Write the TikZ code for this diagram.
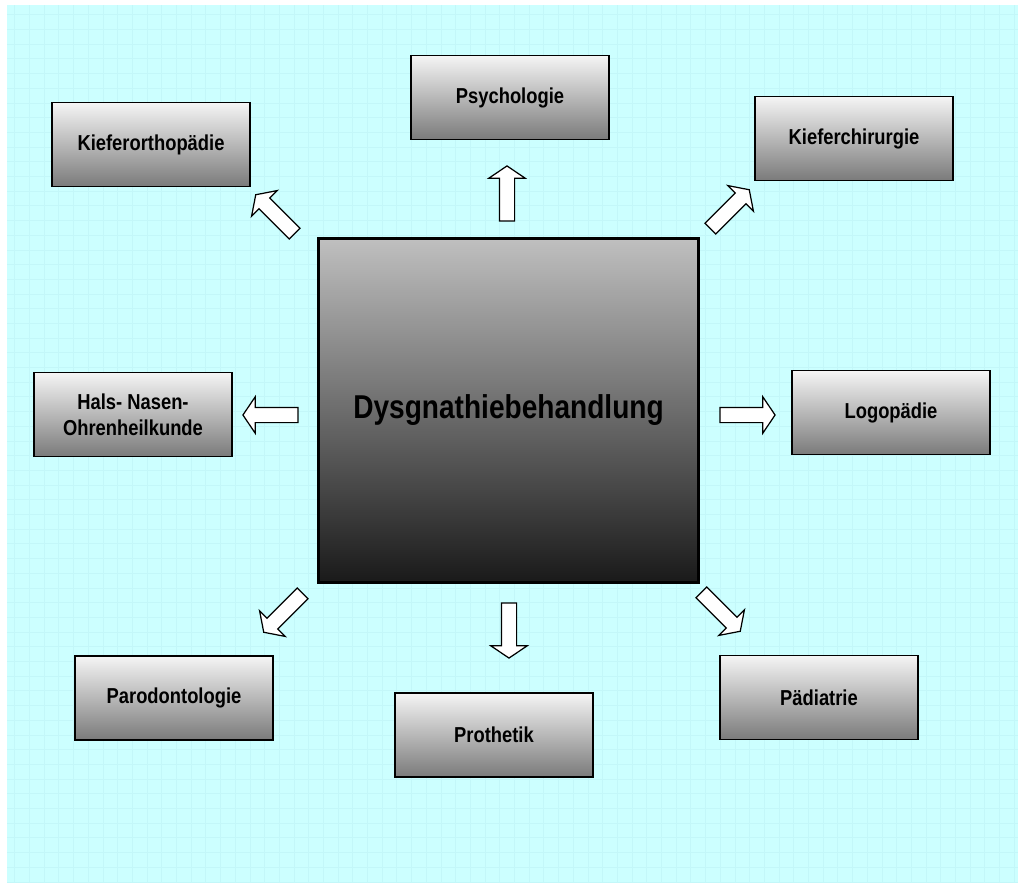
\documentclass[tikz,border=0pt]{standalone}
\usepackage{fontspec}
\setmainfont{Liberation Sans}
\newfontfamily\schmalfont[FakeStretch=0.85]{Liberation Sans}
\usepackage{tikz}
\usetikzlibrary{shapes.arrows}
\definecolor{bgcyan}{HTML}{CCFFFF}
\definecolor{gridcyan}{HTML}{C3F7F9}
\tikzset{
  fachbox/.style={draw=black, line width=0.8pt, top color=black!4, bottom color=black!52,
    minimum width=3.96cm, minimum height=1.68cm, align=center,
    font=\schmalfont\fontsize{12.3}{15}\selectfont\bfseries},
  hauptbox/.style={draw=black, line width=1.3pt, top color=black!25, bottom color=black!90,
    minimum width=7.6cm, minimum height=6.88cm,
    font=\schmalfont\fontsize{18.8}{22}\selectfont\bfseries},
  blockpfeil/.style={single arrow, draw=black, fill=white, line width=0.7pt,
    inner sep=0.14cm, single arrow head extend=0.21cm, single arrow tip angle=112,
    minimum height=1.1cm, outer sep=0pt}
}
\begin{document}
\begin{tikzpicture}[x=0.02cm,y=-0.02cm]
		%%%%% START %%%%%
		\useasboundingbox (0,0) rectangle (1018,883);
		\fill[bgcyan] (7,5) rectangle (1018,883);
		\draw[gridcyan, line width=0.4pt, xstep=0.294cm, ystep=0.294cm] (7,5) grid (1018,883);
		
		% main box
		\node[hauptbox] (haupt) at (508.5,410.5) {Dysgnathiebehandlung};
		
		% the eight fields
		\node[fachbox] (psych) at (510,97.5) {Psychologie};
		\node[fachbox] (kfo) at (151,144.5) {Kieferorthopädie};
		\node[fachbox] (kchir) at (854,138.5) {Kieferchirurgie};
		\node[fachbox] (hno) at (133,414.5) {Hals- Nasen-\\Ohrenheilkunde};
		\node[fachbox] (logo) at (891,412.5) {Logopädie};
		\node[fachbox] (paro) at (174,698) {Parodontologie};
		\node[fachbox] (proth) at (494,735) {Prothetik};
		\node[fachbox] (paed) at (819,697.5) {Pädiatrie};
		
		% block arrows
		\node[blockpfeil, rotate=90] (pfPsych) at (507,196) {};
		\node[blockpfeil, rotate=135] (pfKfo) at (277,216) {};
		\node[blockpfeil, rotate=45] (pfKchir) at (728,211) {};
		\node[blockpfeil, rotate=180] (pfHno) at (273,415) {};
		\node[blockpfeil] (pfLogo) at (745,415) {};
		\node[blockpfeil, rotate=225] (pfParo) at (285,611) {};
		\node[blockpfeil, rotate=-90] (pfProth) at (509,628) {};
		\node[blockpfeil, rotate=-45] (pfPaed) at (719,610) {};
		%%%%% END %%%%%
\end{tikzpicture}
\end{document}
